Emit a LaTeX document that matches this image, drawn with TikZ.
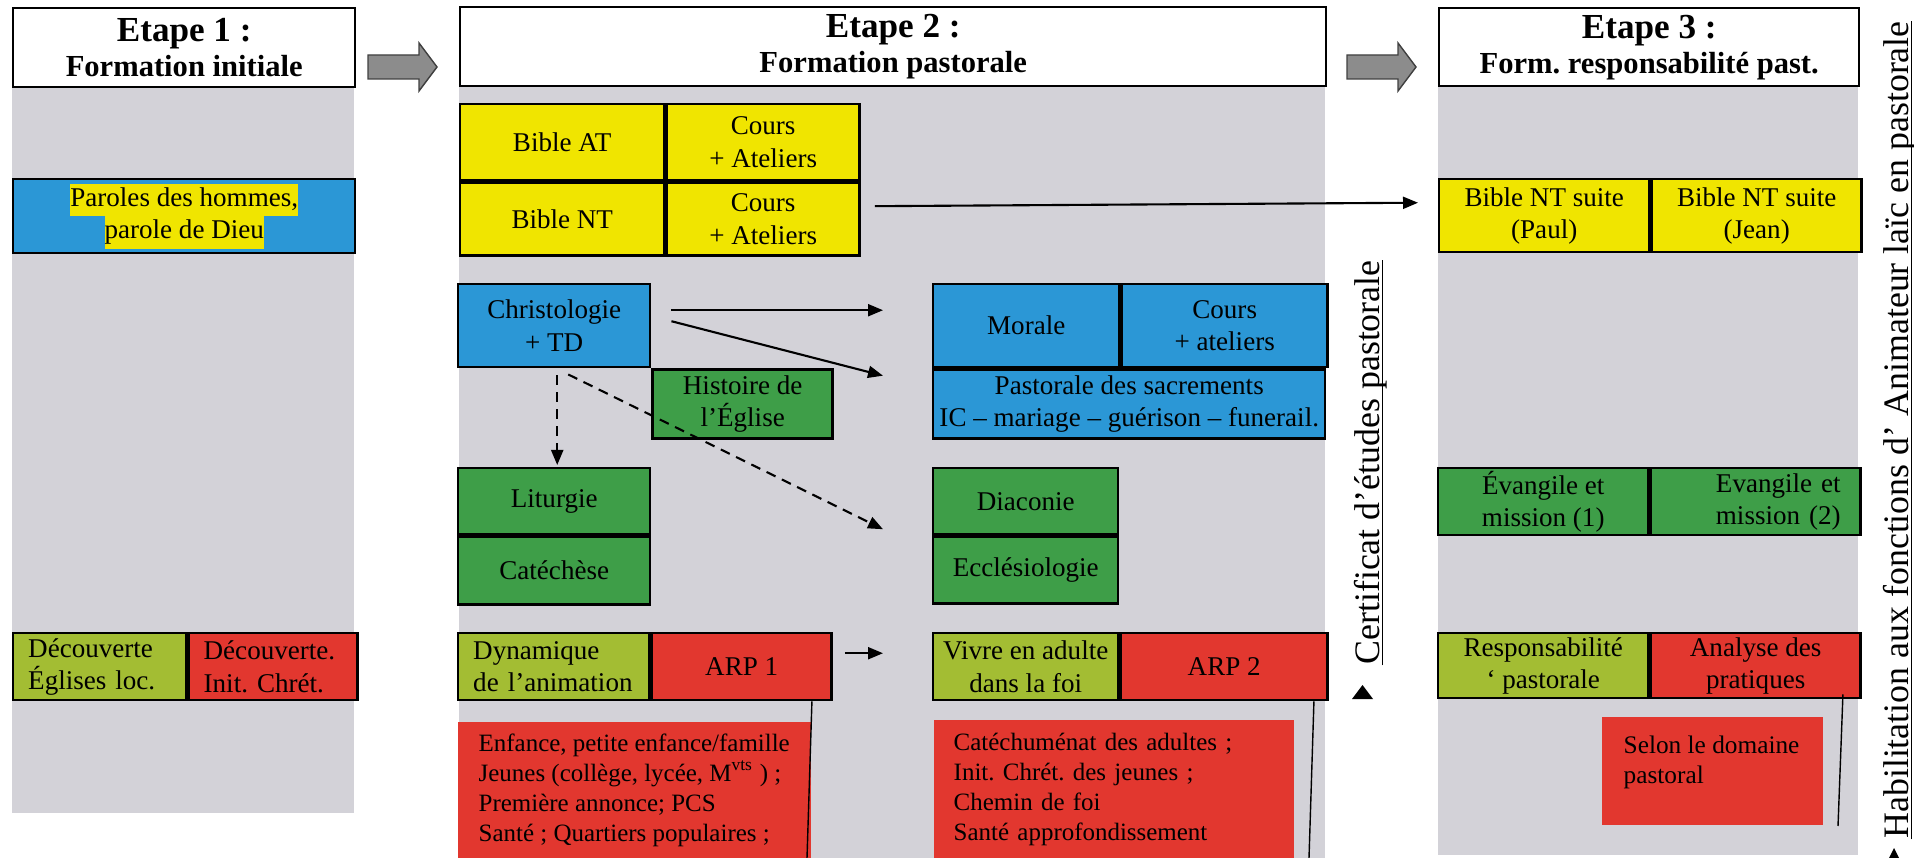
\documentclass[tikz,border=0pt]{standalone}
\usepackage{fontspec}
\setmainfont{Liberation Serif}
\usetikzlibrary{arrows.meta, positioning, calc}

\definecolor{gris}{RGB}{211,210,216}
\definecolor{jaune}{RGB}{240,229,0}
\definecolor{bleu}{RGB}{43,151,214}
\definecolor{vert}{RGB}{62,158,72}
\definecolor{olive}{RGB}{163,189,51}
\definecolor{rouge}{RGB}{226,55,47}
\definecolor{grisfleche}{RGB}{140,140,140}

\newcommand{\surligne}[1]{{\setlength{\fboxsep}{0pt}\colorbox{jaune}{\strut#1}}}
\frenchspacing
\hyphenpenalty=10000
\exhyphenpenalty=10000

\begin{document}
\begin{tikzpicture}[
    case/.style={draw, line width=0.7pt, inner sep=0pt, anchor=north west, align=center, font=\fontsize{7.7}{9.2}\selectfont},
    titre/.style={case, fill=white, font=\fontsize{10}{10}\selectfont\bfseries},
    liste/.style={fill=rouge, inner sep=0pt, anchor=north west, align=left, font=\fontsize{7.1}{8.5}\selectfont},
    fleche/.style={line width=0.6pt, -{Triangle[length=0.15cm, width=0.12cm]}},
    pointille/.style={fleche, dash pattern=on 0.1cm off 0.07cm},
    trait/.style={line width=0.4pt},
    bloc/.style={fill=grisfleche, draw=black!75, line width=0.4pt},
    vertical/.style={rotate=90, anchor=base, inner sep=0pt, font=\fontsize{10.2}{12}\selectfont}
]
    \useasboundingbox (0,0) rectangle (19.14,-8.58);

    % fonds gris des trois etapes
    \fill[gris] (0.12,-0.86) rectangle (3.54,-8.13);
    \fill[gris] (4.59,-0.85) rectangle (13.25,-8.58);
    \fill[gris] (14.38,-0.85) rectangle (18.58,-8.55);

    % fleches entre les etapes
    \foreach \x in {3.68,13.47} {
        \draw[bloc] (\x,-0.55) -- ++(0.51,0) -- ++(0,0.12) -- ++(0.18,-0.24) -- ++(-0.18,-0.24) -- ++(0,0.12) -- ++(-0.51,0) -- cycle;
    }

    % Etape 1
    \node[titre, minimum width=3.42cm, minimum height=0.79cm] (etape1) at (0.12,-0.07) {Etape 1 :\\{\fontsize{8.7}{10}\selectfont Formation initiale}};
    \node[case, fill=bleu, minimum width=3.42cm, minimum height=0.74cm] (paroles) at (0.12,-1.78) {\surligne{Paroles des hommes,}\\\surligne{parole de Dieu}};
    \node[case, fill=olive, minimum width=1.73cm, minimum height=0.67cm, text width=1.43cm, align=left] (decouvEgl) at (0.12,-6.32) {Découverte\\Églises loc.};
    \node[case, fill=rouge, minimum width=1.69cm, minimum height=0.67cm, text width=1.39cm, align=left] (decouvInit) at (decouvEgl.north east) {Découverte.\\Init. Chrét.};

    % Etape 2
    \node[titre, minimum width=8.66cm, minimum height=0.79cm] (etape2) at (4.59,-0.06) {Etape 2 :\\{\fontsize{8.7}{10}\selectfont Formation pastorale}};
    \node[case, fill=jaune, minimum width=2.04cm, minimum height=0.76cm] (bibleAT) at (4.59,-1.03) {Bible AT};
    \node[case, fill=jaune, minimum width=1.93cm, minimum height=0.76cm] (coursAT) at (bibleAT.north east) {Cours\\+ Ateliers};
    \node[case, fill=jaune, minimum width=2.04cm, minimum height=0.73cm] (bibleNT) at (bibleAT.south west) {Bible NT};
    \node[case, fill=jaune, minimum width=1.93cm, minimum height=0.73cm] (coursNT) at (bibleNT.north east) {Cours\\+ Ateliers};
    \node[case, fill=bleu, minimum width=1.92cm, minimum height=0.83cm] (christo) at (4.57,-2.83) {Christologie\\+ TD};
    \node[case, fill=vert, minimum width=1.80cm, minimum height=0.69cm] (histoire) at (christo.south east) {Histoire de\\l’Église};
    \node[case, fill=vert, minimum width=1.92cm, minimum height=0.66cm] (liturgie) at (4.57,-4.67) {Liturgie};
    \node[case, fill=vert, minimum width=1.92cm, minimum height=0.68cm] (catechese) at (liturgie.south west) {Catéchèse};
    \node[case, fill=bleu, minimum width=1.86cm, minimum height=0.83cm] (morale) at (9.32,-2.83) {Morale};
    \node[case, fill=bleu, minimum width=2.06cm, minimum height=0.83cm] (coursMorale) at (morale.north east) {Cours\\+ ateliers};
    \node[case, fill=bleu, minimum width=3.92cm, minimum height=0.69cm] (sacrements) at (morale.south west) {Pastorale des sacrements\\IC – mariage – guérison – funerail.};
    \node[case, fill=vert, minimum width=1.85cm, minimum height=0.66cm] (diaconie) at (9.32,-4.67) {Diaconie};
    \node[case, fill=vert, minimum width=1.85cm, minimum height=0.67cm] (ecclesio) at (diaconie.south west) {Ecclésiologie};
    \node[case, fill=olive, minimum width=1.91cm, minimum height=0.67cm, text width=1.61cm, align=left] (dynamique) at (4.57,-6.32) {Dynamique\\de l’animation};
    \node[case, fill=rouge, minimum width=1.80cm, minimum height=0.67cm] (arp1) at (dynamique.north east) {ARP 1};
    \node[case, fill=olive, minimum width=1.85cm, minimum height=0.67cm] (vivre) at (9.32,-6.32) {Vivre en adulte\\dans la foi};
    \node[case, fill=rouge, minimum width=2.07cm, minimum height=0.67cm] (arp2) at (vivre.north east) {ARP 2};
    \node[liste, minimum width=3.53cm, minimum height=1.37cm] (liste1) at (4.57,-7.21) {Enfance, petite enfance/famille\\Jeunes (collège, lycée, M\textsuperscript{vts} ) ;\\Première annonce; PCS\\Santé ; Quartiers populaires ;};
    \node[liste, minimum width=3.60cm, minimum height=1.39cm, text width=3.20cm] (liste2) at (9.33,-7.19) {Catéchuménat des adultes ;\\Init. Chrét. des jeunes ;\\Chemin de foi\\Santé approfondissement};

    % Etape 3
    \node[titre, minimum width=4.20cm, minimum height=0.78cm] (etape3) at (14.38,-0.07) {Etape 3 :\\{\fontsize{8.7}{10}\selectfont Form. responsabilité past.}};
    \node[case, fill=jaune, minimum width=2.10cm, minimum height=0.73cm] (paul) at (14.38,-1.78) {Bible NT suite\\(Paul)};
    \node[case, fill=jaune, minimum width=2.10cm, minimum height=0.73cm] (jean) at (paul.north east) {Bible NT suite\\(Jean)};
    \node[case, fill=vert, minimum width=2.10cm, minimum height=0.67cm] (evangile1) at (14.37,-4.67) {Évangile et\\mission (1)};
    \node[case, fill=vert, minimum width=2.10cm, minimum height=0.67cm, text width=1.70cm, align=right] (evangile2) at (evangile1.north east) {Evangile et\\mission (2)};
    \node[case, fill=olive, minimum width=2.10cm, minimum height=0.65cm] (respons) at (14.37,-6.32) {Responsabilité\\‘ pastorale};
    \node[case, fill=rouge, minimum width=2.10cm, minimum height=0.65cm] (analyse) at (respons.north east) {Analyse des\\pratiques};
    \fill[rouge] (16.02,-7.17) rectangle (18.23,-8.25);
    \node[anchor=north west, inner sep=0pt, align=left, font=\fontsize{7.2}{8.6}\selectfont] (selon) at (16.23,-7.35) {Selon le domaine\\pastoral};

    % connecteurs
    \draw[fleche] ([xshift=0.14cm, yshift=0.13cm]coursNT.east) -- ([xshift=-0.2cm, yshift=0.13cm]paul.west);
    \draw[fleche] ([xshift=0.2cm, yshift=0.155cm]christo.east) -- ([xshift=-0.49cm, yshift=0.155cm]morale.west);
    \draw[fleche] ([xshift=0.2cm, yshift=0.045cm]christo.east) -- ([xshift=-0.49cm, yshift=0.285cm]sacrements.west);
    \draw[pointille] ([xshift=0.03cm, yshift=-0.07cm]christo.south) -- ([xshift=0.03cm, yshift=0.02cm]liturgie.north);
    \draw[pointille] ([xshift=0.14cm, yshift=-0.06cm]christo.south) -- ([xshift=-0.49cm, yshift=-0.28cm]diaconie.west);
    \draw[fleche] ([xshift=0.12cm, yshift=0.135cm]arp1.east) -- ([xshift=-0.49cm, yshift=0.135cm]vivre.west);

    % traits verticaux
    \coordinate (bas1) at (8.07,-8.58);
    \coordinate (bas2) at (13.09,-8.58);
    \coordinate (bas3) at (18.38,-8.26);
    \draw[trait] ([xshift=-0.21cm]arp1.south east) -- (bas1);
    \draw[trait] ([xshift=-0.15cm]arp2.south east) -- (bas2);
    \draw[trait] ([xshift=-0.19cm, yshift=0.05cm]analyse.south east) -- (bas3);

    % mentions verticales
    \node[vertical] (certificat) at (13.79,-4.625) {Certificat d’études pastorale};
    \node[vertical] (habilitation) at (19.08,-4.30) {Habilitation aux fonctions d’ Animateur laïc en pastorale};
    \draw[trait] ([xshift=0.035cm]certificat.base west) -- ([xshift=0.035cm]certificat.base east);
    \draw[trait] ([xshift=0.035cm]habilitation.base west) -- ([xshift=0.035cm]habilitation.base east);
    \fill (13.52,-6.99) -- (13.73,-6.99) -- (13.625,-6.85) -- cycle;
    \fill (18.88,-8.60) -- (19.00,-8.60) -- (18.94,-8.48) -- cycle;
\end{tikzpicture}
\end{document}
